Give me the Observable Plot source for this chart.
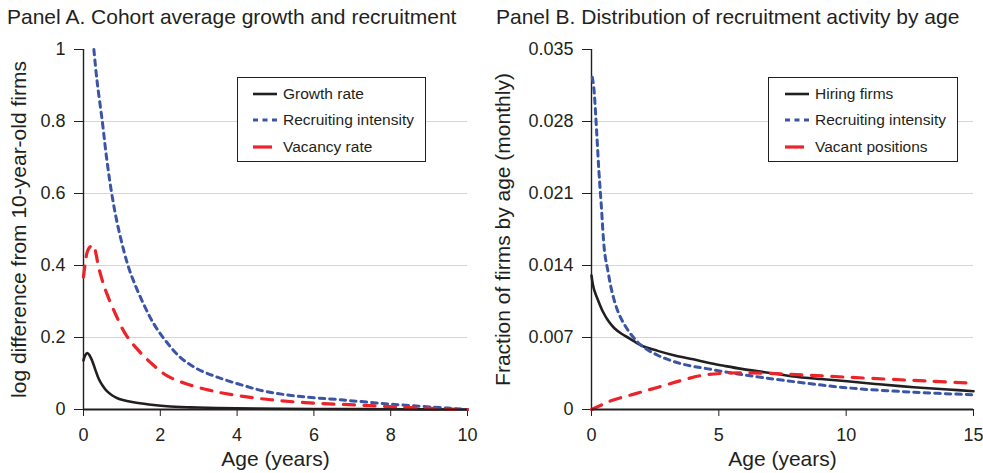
<!DOCTYPE html>
<html><head><meta charset="utf-8">
<script src="https://cdn.jsdelivr.net/npm/d3@7"></script>
<script src="https://cdn.jsdelivr.net/npm/@observablehq/plot@0.6"></script>
<style>
body{margin:0;background:#fff;}
#root{position:relative;width:983px;height:473px;font-family:"Liberation Sans",Arial,sans-serif;color:#231f20;overflow:hidden;}
.title{position:absolute;top:6px;font-size:21px;line-height:21px;white-space:nowrap;}
.panel{position:absolute;top:30px;}
.panel svg g[aria-label$="axis label"]{font-size:21px;}
.legend{position:absolute;top:77px;height:85px;border:1.3px solid #231f20;box-sizing:border-box;background:#fff;}
.item{position:absolute;height:16px;}
.item svg{position:absolute;left:0;top:0;}
.item span{position:absolute;top:-1px;font-size:15.5px;line-height:18px;white-space:nowrap;}
</style></head>
<body>
<div id="root">
  <div class="title" style="left:7px">Panel A. Cohort average growth and recruitment</div>
  <div class="title" style="left:496px">Panel B. Distribution of recruitment activity by age</div>
  <div class="panel" id="pa" style="left:0px"></div>
  <div class="panel" id="pb" style="left:491px"></div>
</div>
<script>
// ---------- Panel A data ----------
const xTicksA = [0, 2, 4, 6, 8, 10];
const yTicksA = [0, 0.2, 0.4, 0.6, 0.8, 1];
const yTickLabelsA = ["0", "0.2", "0.4", "0.6", "0.8", "1"];
const seriesNamesA = ["Growth rate", "Recruiting intensity", "Vacancy rate"];

const growthAge = [0, 0.04, 0.1, 0.16, 0.22, 0.3, 0.39, 0.5, 0.61, 0.75, 0.87, 1.0, 1.3, 1.7, 2.17, 2.8, 3.48, 4.5, 6, 8, 10];
const growthVal = [0.136, 0.150, 0.157, 0.150, 0.137, 0.113, 0.087, 0.066, 0.051, 0.039, 0.032, 0.027, 0.020, 0.014, 0.009, 0.006, 0.004, 0.0025, 0.0015, 0.0007, 0];

const recruitAAge = [0.27, 0.35, 0.49, 0.6, 0.72, 0.87, 1.13, 1.3, 1.56, 1.83, 2.13, 2.52, 2.96, 3.48, 4.09, 4.75, 5.57, 6.7, 8.09, 9.48, 10];
const recruitAVal = [1.0, 0.915, 0.8, 0.7, 0.61, 0.522, 0.41, 0.358, 0.294, 0.238, 0.192, 0.145, 0.113, 0.09, 0.069, 0.05, 0.037, 0.027, 0.014, 0.004, 0];

const vacancyAge = [0, 0.05, 0.1, 0.17, 0.26, 0.33, 0.39, 0.5, 0.61, 0.83, 1.09, 1.39, 1.74, 2.17, 2.69, 3.3, 3.82, 4.88, 6.0, 7.14, 8.27, 9.3, 10];
const vacancyVal = [0.368, 0.41, 0.438, 0.452, 0.456, 0.43, 0.397, 0.355, 0.321, 0.266, 0.21, 0.169, 0.131, 0.094, 0.071, 0.053, 0.042, 0.027, 0.0176, 0.0124, 0.0065, 0.002, 0];

// ---------- Panel B data ----------
const xTicksB = [0, 5, 10, 15];
const yTicksB = [0, 0.007, 0.014, 0.021, 0.028, 0.035];
const yTickLabelsB = ["0", "0.007", "0.014", "0.021", "0.028", "0.035"];
const seriesNamesB = ["Hiring firms", "Recruiting intensity", "Vacant positions"];

const hiringAge = [0, 0.05, 0.12, 0.26, 0.45, 0.65, 0.9, 1.18, 1.5, 1.96, 2.6, 3.27, 4.0, 4.58, 5.2, 5.89, 6.8, 7.85, 9, 10.04, 11.3, 12.66, 14, 15];
const hiringVal = [0.01303, 0.0122, 0.0115, 0.0106, 0.0095, 0.00865, 0.0079, 0.00736, 0.0069, 0.00622, 0.0057, 0.00525, 0.00488, 0.00454, 0.00425, 0.00395, 0.00362, 0.00324, 0.00296, 0.00275, 0.00245, 0.00217, 0.00195, 0.00178];

const recruitBAge = [0.03, 0.09, 0.2, 0.29, 0.38, 0.52, 0.65, 0.79, 1.05, 1.44, 1.96, 2.62, 3.53, 4.58, 5.89, 7.59, 10.04, 12.66, 15];
const recruitBVal = [0.0323, 0.0313, 0.0271, 0.0232, 0.02, 0.0152, 0.0134, 0.0116, 0.00946, 0.00768, 0.00622, 0.00525, 0.00444, 0.00395, 0.0034, 0.00282, 0.00211, 0.00168, 0.00143];

const vacantAge = [0, 0.4, 0.8, 1.7, 2.62, 3.53, 4.32, 5.24, 6.28, 7.59, 10.04, 13.31, 15];
const vacantVal = [0, 0.00045, 0.00088, 0.00152, 0.00217, 0.00282, 0.00331, 0.00353, 0.00356, 0.00345, 0.00314, 0.00275, 0.00256];

// ---------- styles ----------
const INK = "#231f20";
const BLUE = "#3a55a6";
const RED = "#ec2329";
const styles = [
  {stroke: INK, strokeWidth: 2.6, dash: null, legendDash: null},
  {stroke: BLUE, strokeWidth: 3, dash: "5.5,5", legendDash: "5,4.5"},
  {stroke: RED, strokeWidth: 3.2, dash: "11,9.5", legendDash: "19,10"}
];

const rows = (ages, vals) => ages.map((a, i) => ({age: a, value: vals[i]}));

function panel(opts) {
  const {xTicks, yTicks, yLabels, series, width, marginLeft, marginRight, yLabel, labelOffsetY} = opts;
  const xMax = xTicks[xTicks.length - 1];
  const yMax = yTicks[yTicks.length - 1];
  return Plot.plot({
    width, height: 443,
    marginTop: 19, marginBottom: 64, marginLeft, marginRight,
    style: {fontFamily: '"Liberation Sans", Arial, sans-serif', fontSize: "18px", color: INK, background: "transparent", overflow: "visible"},
    x: {domain: [0, xMax]},
    y: {domain: [0, yMax]},
    marks: [
      Plot.gridY(yTicks.filter(d => d > 0 && d < yMax), {stroke: "#d6d6d6", strokeOpacity: 1, strokeWidth: 1}),
      Plot.axisY({ticks: yTicks, tickFormat: d => yLabels[yTicks.indexOf(d)], tickSize: 9, tickPadding: 9,
        label: yLabel, labelAnchor: "center", labelOffset: labelOffsetY, labelArrow: "none"}),
      Plot.axisX({ticks: xTicks, tickFormat: d => String(d), tickSize: 7, tickPadding: 12,
        label: "Age (years)", labelAnchor: "center", labelOffset: 56, labelArrow: "none"}),
      Plot.ruleX([0], {stroke: INK, strokeWidth: 1.4}),
      ...series.map((s, i) => Plot.line(s, {x: "age", y: "value", stroke: styles[i].stroke, strokeWidth: styles[i].strokeWidth,
        strokeDasharray: styles[i].dash, curve: "catmull-rom", clip: false})),
      Plot.ruleY([0], {stroke: INK, strokeWidth: 2})
    ]
  });
}

document.getElementById("pa").appendChild(panel({
  xTicks: xTicksA, yTicks: yTicksA, yLabels: yTickLabelsA, width: 491, marginLeft: 83, marginRight: 24,
  yLabel: "log difference from 10-year-old firms", labelOffsetY: 72,
  series: [rows(growthAge, growthVal), rows(recruitAAge, recruitAVal), rows(vacancyAge, vacancyVal)]
}));
document.getElementById("pb").appendChild(panel({
  xTicks: xTicksB, yTicks: yTicksB, yLabels: yTickLabelsB, width: 492, marginLeft: 100, marginRight: 10,
  yLabel: "Fraction of firms by age (monthly)", labelOffsetY: 96,
  series: [rows(hiringAge, hiringVal), rows(recruitBAge, recruitBVal), rows(vacantAge, vacantVal)]
}));

// ---------- legends ----------
function legend(names, left, width, lineLeft, textLeft) {
  const box = document.createElement("div");
  box.className = "legend";
  box.style.left = left + "px";
  box.style.width = width + "px";
  const centers = [16, 42, 69];
  names.forEach((name, i) => {
    const it = document.createElement("div");
    it.className = "item";
    it.style.left = lineLeft + "px";
    it.style.top = (centers[i] - 8) + "px";
    const s = styles[i];
    it.innerHTML = `<svg width="26" height="16"><line x1="0" x2="24" y1="8" y2="8" stroke="${s.stroke}" stroke-width="${s.strokeWidth}" ${s.legendDash ? `stroke-dasharray="${s.legendDash}"` : ""}/></svg><span style="left:${textLeft - lineLeft}px">${name}</span>`;
    box.appendChild(it);
  });
  document.getElementById("root").appendChild(box);
}
legend(seriesNamesA, 237, 189, 15, 45);
legend(seriesNamesB, 768, 190, 16, 46);
</script>
</body></html>
